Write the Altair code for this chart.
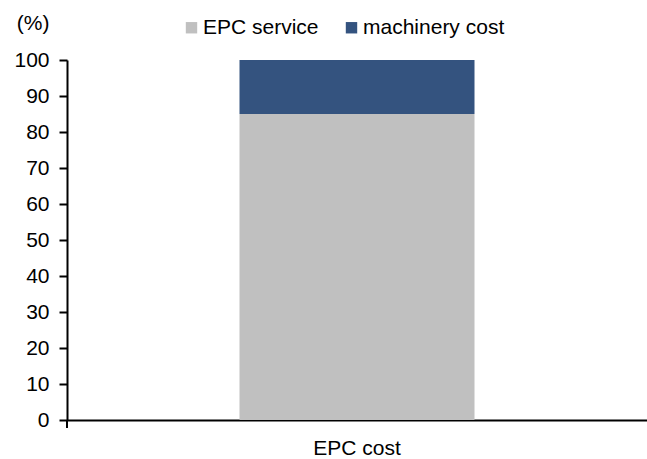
import altair as alt
import pandas as pd

# Composition of EPC cost (%)
categories = ["EPC cost"]
components = ["EPC service", "machinery cost"]
shares = [85, 15]
colors = ["#C0C0C0", "#34537F"]
y_ticks = list(range(0, 101, 10))

df = pd.DataFrame({
    "category": [categories[0]] * len(components),
    "component": components,
    "share": shares,
    "rank": list(range(len(components))),
})

FONT = "Liberation Sans"
FS = 21
W, H = 580, 360

bars = alt.Chart(df).mark_bar().encode(
    x=alt.X(
        "category:N",
        scale=alt.Scale(paddingInner=0, paddingOuter=0.734),
        axis=alt.Axis(
            title=None, labelAngle=0, ticks=False,
            domainColor="black", domainWidth=2,
            labelFontSize=FS, labelColor="black", labelPadding=17,
        ),
    ),
    y=alt.Y(
        "share:Q",
        stack="zero",
        scale=alt.Scale(domain=[0, 100], nice=False),
        axis=alt.Axis(
            values=y_ticks, grid=False,
            tickSize=8, tickColor="black", tickWidth=2,
            domainColor="black", domainWidth=2,
            labelFontSize=FS, labelColor="black", labelPadding=10,
            title="(%)", titleAngle=0, titleAlign="right", titleBaseline="middle",
            titleX=-18, titleY=-37, titleFontSize=FS, titleFontWeight="normal",
            titleColor="black",
        ),
    ),
    color=alt.Color(
        "component:N",
        scale=alt.Scale(domain=components, range=colors),
        legend=alt.Legend(
            title=None, orient="none", legendX=114, legendY=-43,
            direction="horizontal", symbolType="square", symbolSize=130,
            symbolStrokeWidth=0, labelFontSize=FS, labelColor="black",
            labelOffset=1, columnPadding=22,
        ),
    ),
    order=alt.Order("rank:Q"),
)

# small category-axis tick below the origin
corner_tick = alt.Chart(pd.DataFrame({"v": [0]})).mark_rule(
    color="black", strokeWidth=2
).encode(x=alt.value(0), y=alt.value(H), y2=alt.value(H + 8))

chart = alt.layer(bars, corner_tick).properties(
    width=W, height=H,
    autosize=alt.AutoSizeParams(type="none"),
    padding={"left": 67, "top": 60, "right": 0, "bottom": 39},
).configure(font=FONT).configure_view(stroke=None)

chart.save("out.html", embed_options={"renderer": "svg", "actions": False})
